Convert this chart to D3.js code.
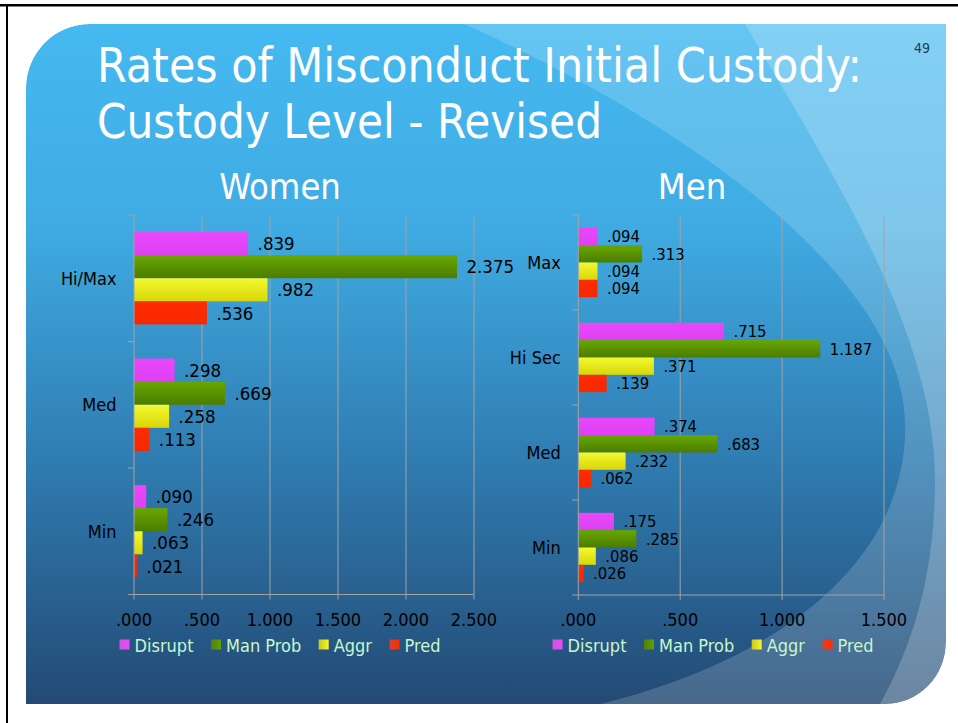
<!DOCTYPE html>
<html>
<head>
<meta charset="utf-8">
<script src="https://cdn.jsdelivr.net/npm/d3@7"></script>
<style>
  body { margin: 0; background: #fff; }
  #app-container { width: 958px; height: 723px; }
  svg { display: block; font-family: "DejaVu Sans Condensed", "DejaVu Sans", sans-serif; font-stretch: condensed; }
</style>
</head>
<body>
<div id="app-container"></div>
<script>
// values
const seriesNames = ['Disrupt', 'Man Prob', 'Aggr', 'Pred'];

const womenLevels = ['Hi/Max', 'Med', 'Min'];
const womenDisrupt = [0.839, 0.298, 0.090];
const womenManProb = [2.375, 0.669, 0.246];
const womenAggr = [0.982, 0.258, 0.063];
const womenPred = [0.536, 0.113, 0.021];
const womenTicks = [0, 0.5, 1, 1.5, 2, 2.5];

const menLevels = ['Max', 'Hi Sec', 'Med', 'Min'];
const menDisrupt = [0.094, 0.715, 0.374, 0.175];
const menManProb = [0.313, 1.187, 0.683, 0.285];
const menAggr = [0.094, 0.371, 0.232, 0.086];
const menPred = [0.094, 0.139, 0.062, 0.026];
const menTicks = [0, 0.5, 1, 1.5];

const W = 958, H = 723;
const fmt = v => d3.format('.3f')(v).replace(/^0\./, '.');

document.addEventListener('DOMContentLoaded', renderSlide);

function renderSlide() {
    const container = document.getElementById('app-container');
    const svg = d3.select(container).append('svg')
        .attr('width', W).attr('height', H)
        .attr('viewBox', `0 0 ${W} ${H}`);

    const defs = svg.append('defs');

    // slide panel: rounded top-left and bottom-right corners
    const panelPath = 'M26,704 L26,88 A64,64 0 0 1 90,24 L946,24 L946,642 A60,62 0 0 1 886,704 Z';
    defs.append('clipPath').attr('id', 'panel-clip').append('path').attr('d', panelPath);

    const bg = defs.append('linearGradient').attr('id', 'bg-grad')
        .attr('x1', 0).attr('y1', 0).attr('x2', 0).attr('y2', 1);
    [[0, '#45b9f1'], [0.3, '#3fabe2'], [0.65, '#2f7bb0'], [1, '#234a74']].forEach(s =>
        bg.append('stop').attr('offset', s[0]).attr('stop-color', s[1]));

    // bar fills
    const barGrad = (id, top, bottom) => {
        const g = defs.append('linearGradient').attr('id', id)
            .attr('x1', 0).attr('y1', 0).attr('x2', 0).attr('y2', 1);
        g.append('stop').attr('offset', 0).attr('stop-color', top);
        g.append('stop').attr('offset', 1).attr('stop-color', bottom);
    };
    barGrad('g-disrupt', '#e848fa', '#e040f4');
    barGrad('g-man', '#68a800', '#4b7c00');
    barGrad('g-aggr', '#f2fa30', '#d8d608');
    barGrad('g-pred', '#ff2c00', '#f52800');

    const keyGrad = (id, left, right) => {
        const g = defs.append('linearGradient').attr('id', id)
            .attr('x1', 0).attr('y1', 0).attr('x2', 1).attr('y2', 0);
        g.append('stop').attr('offset', 0).attr('stop-color', left);
        g.append('stop').attr('offset', 1).attr('stop-color', right);
    };
    keyGrad('k-disrupt', '#c858d8', '#ee48fa');
    keyGrad('k-man', '#4f8010', '#62a000');
    keyGrad('k-aggr', '#c8c820', '#f4f828');
    keyGrad('k-pred', '#d84030', '#ff2c00');

    svg.append('rect').attr('width', W).attr('height', H).attr('fill', '#fff');

    const panel = svg.append('g').attr('clip-path', 'url(#panel-clip)');
    panel.append('path').attr('d', panelPath).attr('fill', 'url(#bg-grad)');
    // lighter swooshes on the right
    panel.append('path')
        .attr('d', 'M464,24 C700,130 900,280 905,420 C910,560 780,660 600,704 L946,704 L946,24 Z')
        .attr('fill', '#fff').attr('opacity', 0.17);
    panel.append('path')
        .attr('d', 'M745,24 C830,170 935,330 935,480 C935,580 910,650 880,704 L946,704 L946,24 Z')
        .attr('fill', '#fff').attr('opacity', 0.2);

    // black frame lines at top and left
    svg.append('rect').attr('x', 0).attr('y', 4).attr('width', W).attr('height', 2.5).attr('fill', '#000');
    svg.append('rect').attr('x', 6).attr('y', 4).attr('width', 2).attr('height', H).attr('fill', '#000');

    // titles
    svg.append('text').attr('x', 97).attr('y', 82)
        .attr('fill', '#fff').style('font-size', '48px')
        .attr('textLength', 765).attr('lengthAdjust', 'spacingAndGlyphs')
        .text('Rates of Misconduct Initial Custody:');
    svg.append('text').attr('x', 97).attr('y', 138)
        .attr('fill', '#fff').style('font-size', '48px')
        .attr('textLength', 505).attr('lengthAdjust', 'spacingAndGlyphs')
        .text('Custody Level - Revised');
    svg.append('text').attr('x', 922).attr('y', 53).attr('text-anchor', 'middle')
        .attr('fill', '#1f3a5c').style('font-size', '14px').text('49');

    svg.append('text').attr('x', 280).attr('y', 199).attr('text-anchor', 'middle')
        .attr('fill', '#fff').style('font-size', '36px').text('Women');
    svg.append('text').attr('x', 692).attr('y', 199).attr('text-anchor', 'middle')
        .attr('fill', '#fff').style('font-size', '36px').text('Men');

    renderBarChart(svg, {
        levels: womenLevels,
        values: [womenDisrupt, womenManProb, womenAggr, womenPred],
        ticks: womenTicks,
        xRange: [134, 474],
        yRange: [215, 594.5],
        labelSize: 18.5,
        legendCenter: 280
    });
    renderBarChart(svg, {
        levels: menLevels,
        values: [menDisrupt, menManProb, menAggr, menPred],
        ticks: menTicks,
        xRange: [578.3, 884],
        yRange: [215, 595],
        labelSize: 16.5,
        legendCenter: 713
    });
}

function renderBarChart(svg, cfg) {
    const fills = ['g-disrupt', 'g-man', 'g-aggr', 'g-pred'];
    const keys = ['k-disrupt', 'k-man', 'k-aggr', 'k-pred'];
    const x = d3.scaleLinear().domain([0, d3.max(cfg.ticks)]).range(cfg.xRange);
    const y = d3.scaleBand().domain(cfg.levels).range(cfg.yRange)
        .paddingInner(0.27).paddingOuter(0.135);
    const ySeries = d3.scaleBand().domain(seriesNames).range([0, y.bandwidth()]);
    const [x0, x1] = cfg.xRange, [yTop, yBot] = cfg.yRange;
    const step = y.step();

    const g = svg.append('g');

    // vertical gridlines
    g.selectAll('line.grid').data(cfg.ticks.slice(1)).join('line')
        .attr('class', 'grid')
        .attr('x1', d => x(d)).attr('x2', d => x(d))
        .attr('y1', yTop).attr('y2', yBot)
        .attr('stroke', '#a3a3a3').attr('stroke-width', 1);

    // bars
    const rows = [];
    cfg.levels.forEach((lvl, i) => {
        seriesNames.forEach((s, j) => rows.push({ lvl, s, j, v: cfg.values[j][i] }));
    });
    const barY = d => y(d.lvl) + ySeries(d.s);
    g.selectAll('rect.bar').data(rows).join('rect')
        .attr('class', 'bar')
        .attr('x', x(0)).attr('y', barY)
        .attr('width', d => x(d.v) - x(0))
        .attr('height', ySeries.bandwidth())
        .attr('fill', d => `url(#${fills[d.j]})`);

    g.selectAll('text.val').data(rows).join('text')
        .attr('class', 'val')
        .attr('x', d => x(d.v) + 9.5)
        .attr('y', d => barY(d) + ySeries.bandwidth() / 2)
        .attr('dy', '0.36em')
        .attr('fill', '#000').style('font-size', cfg.labelSize + 'px')
        .text(d => fmt(d.v));

    // category axis
    g.append('line').attr('x1', x0).attr('x2', x0).attr('y1', yTop).attr('y2', yBot)
        .attr('stroke', '#a3a3a3');
    const bounds = d3.range(cfg.levels.length + 1).map(i => yTop + i * step);
    g.selectAll('line.ytick').data(bounds).join('line')
        .attr('class', 'ytick')
        .attr('x1', x0 - 6).attr('x2', x0).attr('y1', d => d).attr('y2', d => d)
        .attr('stroke', '#a3a3a3');
    g.selectAll('text.cat').data(cfg.levels).join('text')
        .attr('class', 'cat')
        .attr('x', x0 - 17.5)
        .attr('y', d => y(d) + y.bandwidth() / 2)
        .attr('dy', '0.36em').attr('text-anchor', 'end')
        .attr('fill', '#000').style('font-size', '18px')
        .text(d => d);

    // value axis
    g.append('line').attr('x1', x0).attr('x2', x1).attr('y1', yBot).attr('y2', yBot)
        .attr('stroke', '#a3a3a3');
    g.selectAll('line.xtick').data(cfg.ticks).join('line')
        .attr('class', 'xtick')
        .attr('x1', d => x(d)).attr('x2', d => x(d))
        .attr('y1', yBot).attr('y2', yBot + 5)
        .attr('stroke', '#a3a3a3');
    g.selectAll('text.xlab').data(cfg.ticks).join('text')
        .attr('class', 'xlab')
        .attr('x', d => x(d)).attr('y', 626)
        .attr('text-anchor', 'middle')
        .attr('fill', '#000').style('font-size', '18px')
        .text(d => fmt(d));

    // legend, laid out by measured text width and centred
    const legend = g.append('g');
    const items = legend.selectAll('g').data(seriesNames).join('g');
    items.append('rect').attr('width', 10).attr('height', 10).attr('y', 639.5)
        .attr('fill', (d, i) => `url(#${keys[i]})`);
    items.append('text').attr('x', 15).attr('y', 651.5)
        .attr('fill', '#c8f7cc').style('font-size', '18px')
        .text(d => d);
    let cursor = 0;
    const offsets = [];
    items.each(function () {
        offsets.push(cursor);
        cursor += 15 + d3.select(this).select('text').node().getComputedTextLength() + 17.5;
    });
    const total = cursor - 17.5;
    const start = cfg.legendCenter - total / 2;
    items.attr('transform', (d, i) => `translate(${start + offsets[i]},0)`);
}
</script>
</body>
</html>
